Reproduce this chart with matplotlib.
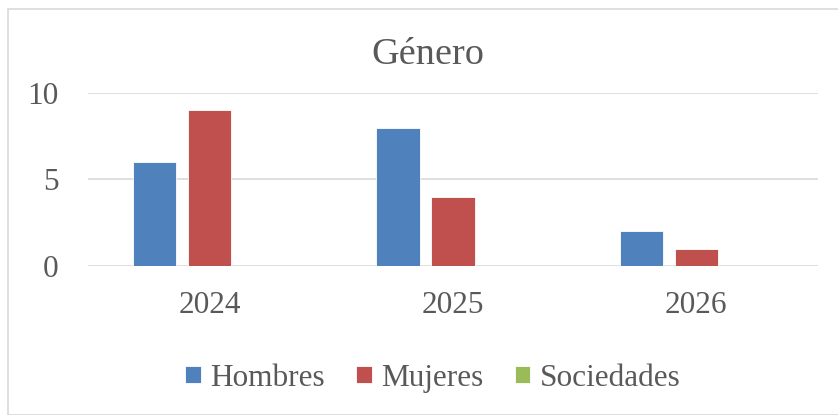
import matplotlib.pyplot as plt
import numpy as np
from matplotlib.patches import Rectangle

# data
years = ["2024", "2025", "2026"]
hombres = [6, 8, 2]
mujeres = [9, 4, 1]
sociedades = [0, 0, 0]

series = [("Hombres", hombres, "#4f81bd"),
          ("Mujeres", mujeres, "#c0504d"),
          ("Sociedades", sociedades, "#9bbb59")]

plt.rcParams["font.family"] = ["Liberation Serif", "DejaVu Serif"]
txt = "#595959"

fig = plt.figure(figsize=(8.38, 4.15), dpi=100)
W, H = 838, 415
ax = fig.add_axes([88 / W, 1 - 266 / H, 730 / W, (266 - 93) / H])

x = np.arange(len(years))
width = 0.177
step = 0.226
for i, (name, vals, col) in enumerate(series):
    ax.bar(x + (i - 1) * step, vals, width, color=col, label=name,
           edgecolor="white", linewidth=0.6, zorder=3)

ax.set_xlim(-0.5, len(years) - 0.5)
ax.set_ylim(0, 10)
ax.set_yticks([0, 5, 10])
ax.set_xticks(x)
ax.set_xticklabels(years)
ax.yaxis.grid(True, color="#d9d9d9", linewidth=1.2, zorder=0)
for s in ax.spines.values():
    s.set_visible(False)
ax.tick_params(length=0, labelsize=22.5, colors=txt)
ax.tick_params(axis="y", pad=21)
ax.tick_params(axis="x", pad=18)

# chart area runs past the right edge, so centre is a bit right of middle
fig.text(428 / W, 1 - 55 / H, "Género", ha="center", va="center",
         fontsize=27.5, color=txt)

fig.legend(loc="center", bbox_to_anchor=(433 / W, 1 - 378 / H), ncol=3,
           frameon=False, fontsize=22.5, labelcolor=txt,
           handlelength=0.5, handleheight=0.5, handletextpad=0.3,
           columnspacing=1.0)

fig.patches.append(Rectangle((8 / W, 0), 1, 1 - 9 / H, transform=fig.transFigure,
                             fill=False, edgecolor="#d9d9d9", linewidth=1.2))

fig.savefig("out.png", dpi=100)
